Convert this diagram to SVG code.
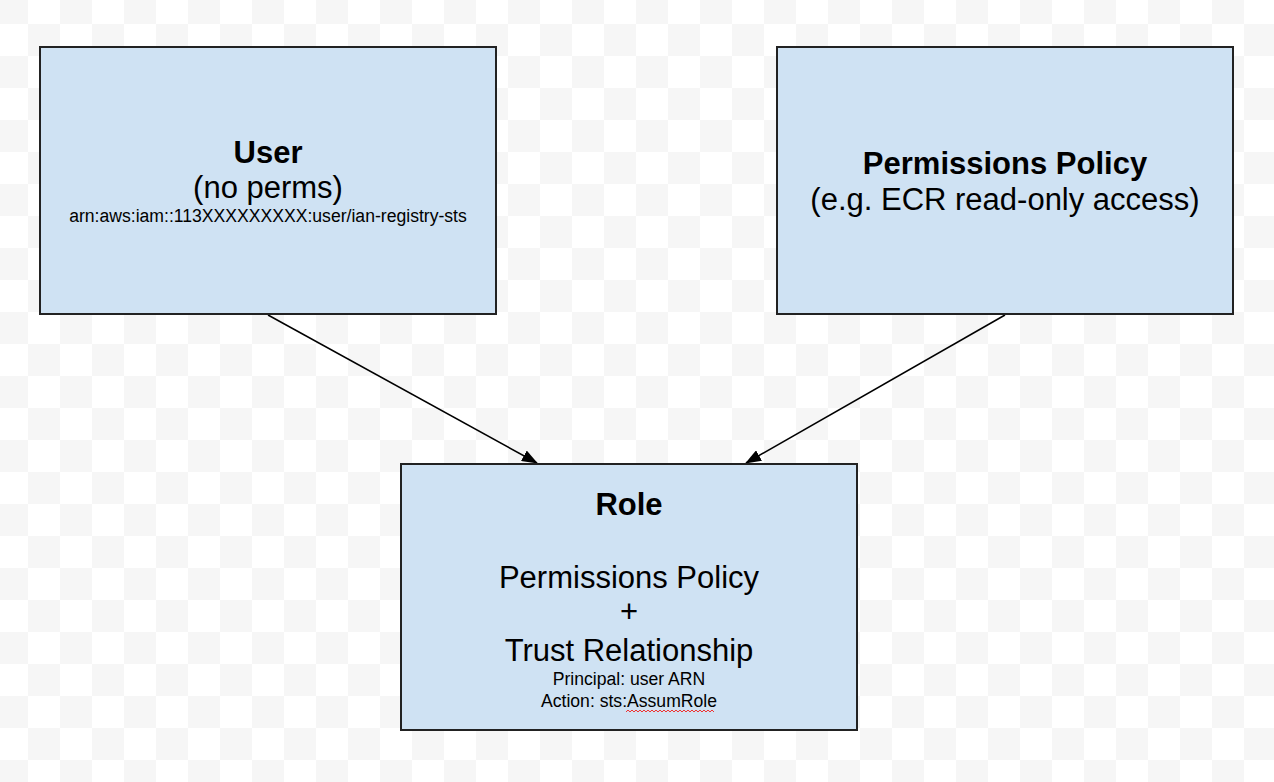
<svg xmlns="http://www.w3.org/2000/svg" width="1274" height="782" viewBox="0 0 1274 782">
  <defs>
    <pattern id="checker" x="-4" y="-8" width="64" height="64" patternUnits="userSpaceOnUse">
      <rect width="64" height="64" fill="#ffffff"/>
      <rect x="0" y="0" width="32" height="32" fill="#f6f6f6"/>
      <rect x="32" y="32" width="32" height="32" fill="#f6f6f6"/>
    </pattern>
    <marker id="arrow" markerWidth="16" markerHeight="12" refX="15" refY="6" orient="auto" markerUnits="userSpaceOnUse">
      <path d="M0,0 L16,6 L0,12 Z" fill="#000"/>
    </marker>
    <style>
      .box { fill: #cfe2f3; stroke: #222; stroke-width: 2; }
      .t { font-family: "Liberation Sans", Arial, sans-serif; fill: #000; text-anchor: middle; }
      .big { font-size: 31px; }
      .bold { font-weight: bold; }
      .small { font-size: 17.6px; }
      .conn { stroke: #000; stroke-width: 1.5; fill: none; marker-end: url(#arrow); }
    </style>
  </defs>
  <rect x="0" y="0" width="1274" height="782" fill="url(#checker)"/>

  <g id="connectors">
    <line class="conn" x1="268" y1="315" x2="537" y2="463"/>
    <line class="conn" x1="1005" y1="315" x2="746" y2="463"/>
  </g>

  <g id="user">
    <rect class="box" x="40" y="47" width="456" height="267"/>
    <text class="t big bold" x="268" y="163">User</text>
    <text class="t big" x="268" y="198">(no perms)</text>
    <text class="t small" x="268" y="222">arn:aws:iam::113XXXXXXXXX:user/ian-registry-sts</text>
  </g>

  <g id="permissions-policy">
    <rect class="box" x="777" y="47" width="456" height="267"/>
    <text class="t big bold" x="1005" y="174">Permissions Policy</text>
    <text class="t big" x="1005" y="210">(e.g. ECR read-only access)</text>
  </g>

  <g id="role">
    <rect class="box" x="401" y="464" width="456" height="266"/>
    <text class="t big bold" x="629" y="515">Role</text>
    <text class="t big" x="629" y="588">Permissions Policy</text>
    <text class="t big" x="629" y="622">+</text>
    <text class="t big" x="629" y="661">Trust Relationship</text>
    <text class="t small" x="629" y="685">Principal: user ARN</text>
    <text class="t small" x="629" y="707">Action: sts:AssumRole</text>
    <path d="M626,712 l2,-2 l2,2 l2,-2 l2,2 l2,-2 l2,2 l2,-2 l2,2 l2,-2 l2,2 l2,-2 l2,2 l2,-2 l2,2 l2,-2 l2,2 l2,-2 l2,2 l2,-2 l2,2 l2,-2 l2,2 l2,-2 l2,2 l2,-2 l2,2 l2,-2 l2,2 l2,-2 l2,2 l2,-2 l2,2 l2,-2 l2,2 l2,-2 l2,2 l2,-2 l2,2 l2,-2 l2,2 l2,-2 l2,2 l2,-2 l2,2" fill="none" stroke="#e33" stroke-width="1"/>
  </g>
</svg>
